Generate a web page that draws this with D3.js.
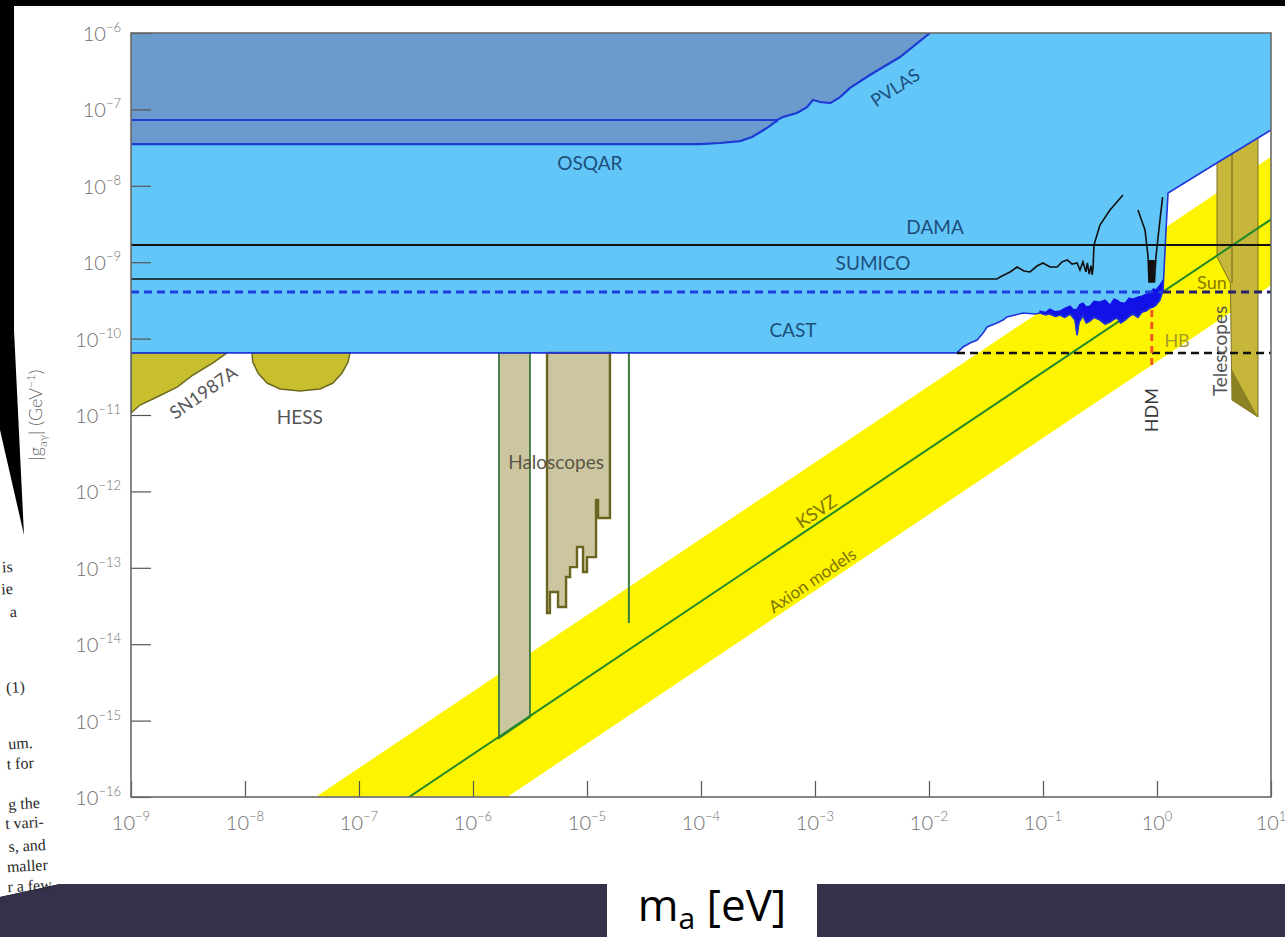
<!DOCTYPE html>
<html>
<head>
<meta charset="utf-8">
<script src="https://cdn.jsdelivr.net/npm/d3@7"></script>
<style>
  html, body { margin: 0; padding: 0; background: #000; overflow: hidden; }
  svg { display: block; }
</style>
</head>
<body>
<svg id="chart" width="1285" height="937"></svg>
<script>
// ---- axis decades ----
const massTickExponents = [-9, -8, -7, -6, -5, -4, -3, -2, -1, 0, 1];
const couplingTickExponents = [-16, -15, -14, -13, -12, -11, -10, -9, -8, -7, -6];

// ---- exclusion bounds: [axion mass (eV), |g_aγ| (GeV^-1)] ----
const pvlasBound = [[1e-9, 7.26e-8], [4.65e-4, 7.26e-8], [5.24e-4, 7.96e-8], [6.95e-4, 8.97e-8],
  [8.51e-4, 1.07e-7], [9.59e-4, 1.33e-7], [1.11e-3, 1.25e-7], [1.36e-3, 1.21e-7], [1.66e-3, 1.45e-7],
  [2.03e-3, 1.91e-7], [3.03e-3, 2.82e-7], [5.57e-3, 4.85e-7], [1.02e-2, 1e-6]];
const osqarBound = [[1e-9, 3.52e-8], [9.79e-5, 3.52e-8], [1.47e-4, 3.63e-8], [2.20e-4, 3.85e-8],
  [2.80e-4, 4.36e-8], [3.43e-4, 5.21e-8], [4.03e-4, 6.07e-8], [4.46e-4, 6.84e-8], [4.73e-4, 7.1e-8]];

const castLowMass = [[1e-9, 6.5e-11], [1.76e-2, 6.5e-11], [1.99e-2, 7.76e-11], [2.29e-2, 8.75e-11],
  [2.64e-2, 9.59e-11], [2.98e-2, 1.18e-10], [3.23e-2, 1.42e-10], [3.57e-2, 1.51e-10], [3.94e-2, 1.60e-10],
  [4.46e-2, 1.75e-10], [4.83e-2, 1.92e-10], [5.68e-2, 2.04e-10], [6.68e-2, 2.16e-10], [8.51e-2, 2.10e-10],
  [9.42e-2, 2.16e-10]];
const castNoiseLower = [[0.105, 2.05e-10], [0.115, 2.10e-10], [0.128, 1.95e-10], [0.141, 2.04e-10],
  [0.155, 1.9e-10], [0.173, 2.10e-10], [0.191, 1.75e-10], [0.199, 1.11e-10], [0.207, 1.65e-10],
  [0.224, 1.98e-10], [0.24, 1.6e-10], [0.258, 1.70e-10], [0.28, 1.9e-10], [0.316, 1.75e-10],
  [0.35, 1.55e-10], [0.387, 1.65e-10], [0.42, 1.8e-10], [0.446, 1.86e-10], [0.48, 1.6e-10],
  [0.524, 1.75e-10], [0.57, 1.95e-10], [0.615, 2.10e-10], [0.68, 1.9e-10], [0.738, 2.23e-10],
  [0.8, 2.3e-10], [0.869, 2.52e-10], [0.93, 2.6e-10], [0.98, 2.75e-10], [1.06, 3.20e-10], [1.13, 4.33e-10]];
const castNoiseUpper = [[9.42e-2, 2.30e-10], [0.105, 2.2e-10], [0.115, 2.44e-10], [0.128, 2.25e-10],
  [0.141, 2.30e-10], [0.155, 2.5e-10], [0.173, 2.67e-10], [0.185, 2.4e-10], [0.199, 2.44e-10],
  [0.21, 2.8e-10], [0.224, 2.92e-10], [0.24, 2.6e-10], [0.258, 2.67e-10], [0.28, 3.1e-10],
  [0.316, 3.01e-10], [0.35, 3.2e-10], [0.387, 2.75e-10], [0.42, 3.3e-10], [0.446, 3.20e-10],
  [0.48, 2.95e-10], [0.524, 2.92e-10], [0.57, 3.4e-10], [0.615, 3.30e-10], [0.68, 3.5e-10],
  [0.738, 3.61e-10], [0.8, 3.8e-10], [0.869, 3.95e-10], [0.93, 4.5e-10], [0.98, 4.33e-10],
  [1.06, 5.03e-10], [1.13, 5.85e-10]];
const castHighMass = [[1.2, 2.64e-9], [1.25, 8.05e-9], [3.57, 2.11e-8], [10, 5.37e-8]];

const damaCoupling = 1.68e-9;
const sumicoBound = [[1e-9, 6.03e-10], [3.94e-2, 6.03e-10], [4.20e-2, 6.40e-10], [5.14e-2, 7.45e-10],
  [5.92e-2, 8.65e-10], [6.81e-2, 7.67e-10], [7.69e-2, 7.45e-10], [8.85e-2, 8.91e-10], [0.1, 9.77e-10],
  [0.115, 8.65e-10], [0.133, 8.65e-10], [0.147, 1.01e-9], [0.163, 1.07e-9], [0.180, 9.46e-10],
  [0.199, 9.77e-10], [0.211, 7.91e-10], [0.224, 1.01e-9], [0.238, 7.45e-10], [0.245, 9.8e-10],
  [0.254, 7.0e-10], [0.264, 9.0e-10], [0.270, 6.8e-10], [0.275, 8.4e-10], [0.280, 1.68e-9],
  [0.316, 3.07e-9], [0.387, 4.82e-9], [0.503, 7.59e-9]];
const sumicoDip = [[0.681, 4.82e-9], [0.785, 2.64e-9], [0.834, 1.2e-9], [0.85, 5.51e-10],
  [0.95, 5.51e-10], [0.98, 1.2e-9], [1.06, 3.5e-9], [1.12, 7.1e-9]];
const sumicoDipCore = [[0.834, 1.07e-9], [0.85, 5.51e-10], [0.95, 5.51e-10], [0.96, 1.07e-9]];

const sunCoupling = 4.07e-10;
const sunSplitMass = 1.13;
const hbCoupling = 6.5e-11;
const hbStartMass = 1.76e-2;
const hdmMass = 0.9;
const hdmCouplings = [2.37e-10, 4.5e-11];

const sn1987aBound = [[1e-9, 6.5e-11], [6.95e-9, 6.5e-11], [5.24e-9, 4.80e-11], [3.50e-9, 3.34e-11],
  [2.54e-9, 2.32e-11], [1.69e-9, 1.72e-11], [1.20e-9, 1.35e-11], [1e-9, 1.06e-11]];
const hessBound = [[1.15e-8, 6.5e-11], [1.17e-8, 4.94e-11], [1.30e-8, 3.55e-11], [1.56e-8, 2.62e-11],
  [2.03e-8, 2.19e-11], [3.03e-8, 2.06e-11], [4.55e-8, 2.19e-11], [5.91e-8, 2.62e-11],
  [7.10e-8, 3.55e-11], [8.02e-8, 4.94e-11], [8.34e-8, 6.5e-11]];

const haloscopeA = [[1.69e-6, 6.5e-11], [3.16e-6, 6.5e-11], [3.16e-6, 1.11e-15], [1.69e-6, 5.92e-16]];
const haloscopeB = [[4.46e-6, 6.5e-11], [1.59e-5, 6.5e-11], [1.59e-5, 4.49e-13], [1.25e-5, 4.49e-13],
  [1.25e-5, 7.71e-13], [1.20e-5, 7.71e-13], [1.20e-5, 1.38e-13], [1e-5, 1.38e-13], [1e-5, 8.81e-14],
  [9.23e-6, 8.81e-14], [9.23e-6, 1.87e-13], [8.17e-6, 1.87e-13], [8.17e-6, 1.02e-13], [7.10e-6, 1.02e-13],
  [7.10e-6, 7.59e-14], [6.55e-6, 7.59e-14], [6.55e-6, 3.07e-14], [5.57e-6, 3.07e-14], [5.57e-6, 4.82e-14],
  [4.73e-6, 4.82e-14], [4.73e-6, 2.56e-14], [4.46e-6, 2.56e-14]];
const haloscopeC = [[2.33e-5, 6.5e-11], [2.33e-5, 1.89e-14]];

const telescopeBound = [[3.36, 1e-7], [7.69, 1e-7], [7.69, 9.42e-12], [4.55, 1.57e-11], [4.4, 5.35e-10], [3.36, 1.17e-9]];
const telescopeShade = [[4.55, 3.88e-11], [7.69, 9.42e-12], [4.55, 1.57e-11]];
const telescopeDivider = [[4.55, 1e-7], [4.55, 5.35e-10]];

const axionBandUpper = [[4.17e-8, 1e-16], [10, 2.40e-8]];
const axionBandLower = [[2.0e-6, 1e-16], [10, 5.0e-10]];
const ksvzLine = [[2.75e-7, 1e-16], [10, 3.63e-9]];

// ---- canvas ----
const W = 1285, H = 937;
const svg = d3.select("#chart");

svg.append("rect").attr("width", W).attr("height", H).attr("fill", "#000");
// sheet of paper holding the figure, with the dark gap between pages at the left
svg.append("path")
  .attr("d", "M14,6 L1285,6 L1285,884 L60,884 L0,897 L0,430 L24,535 L14,330 Z")
  .attr("fill", "#fff");
svg.append("path")
  .attr("d", "M0,897 L60,884 L1285,884 L1285,937 L0,937 Z")
  .attr("fill", "#33324a");
svg.append("rect").attr("x", 607).attr("y", 884).attr("width", 210).attr("height", 53).attr("fill", "#fff");

// snippets of body text on the page underneath
const margin = svg.append("g").attr("font-family", "'Liberation Serif', serif")
  .attr("font-size", 16).attr("fill", "#2a2a2a");
[["is", 13, 572], ["ie", 13, 594], ["a", 17, 617], ["(1)", 25, 692], ["um.", 33, 748], ["t for", 34, 768],
 ["g the", 40, 808], ["t vari-", 44, 827], ["s, and", 46, 850], ["maller", 48, 870], ["r a few", 52, 890]]
  .forEach(([t, xe, yb]) => {
    margin.append("text").attr("x", xe).attr("y", yb).attr("text-anchor", "end")
      .attr("transform", `rotate(-3,${xe},${yb})`).text(t);
  });

// bottom caption
const cap = svg.append("text").attr("x", 712).attr("y", 921).attr("text-anchor", "middle")
  .attr("font-family", "'Open Sans', sans-serif").attr("font-size", 44).attr("fill", "#000");
cap.append("tspan").text("m");
cap.append("tspan").attr("font-size", 30).attr("dy", 8).text("a");
cap.append("tspan").attr("dy", -8).text(" [eV]");

// ---- scales ----
const x = d3.scaleLog().domain([1e-9, 10]).range([131, 1271]);
const y = d3.scaleLog().domain([1e-16, 1e-6]).range([797, 33]);
const line = d3.line().x(d => x(d[0])).y(d => y(d[1]));
const closed = pts => line(pts) + "Z";

svg.append("defs").append("clipPath").attr("id", "plot")
  .append("rect").attr("x", 131).attr("y", 33).attr("width", 1140).attr("height", 764);
const g = svg.append("g").attr("clip-path", "url(#plot)");

// axion model band
g.append("path").attr("d", closed(axionBandUpper.concat(axionBandLower.slice().reverse())))
  .attr("fill", "#fdf500");

// telescope searches
g.append("path").attr("d", closed(telescopeBound)).attr("fill", "#c6b73a")
  .attr("stroke", "#7d7222").attr("stroke-width", 1);
g.append("path").attr("d", closed(telescopeShade)).attr("fill", "#8c8223");
g.append("path").attr("d", line(telescopeDivider)).attr("stroke", "#7d7222").attr("stroke-width", 1.2).attr("fill", "none");

// helioscope / light-shining-through-wall excluded regions
const castBound = castLowMass.concat(castNoiseLower, castHighMass);
g.append("path").attr("d", closed(castBound.concat([[10, 1e-6], [1e-9, 1e-6]]))).attr("fill", "#63c6f8");
const lswRegion = osqarBound.concat(pvlasBound.filter(d => d[0] > 4.73e-4), [[1e-9, 1e-6]]);
g.append("path").attr("d", closed(lswRegion)).attr("fill", "#6a9bcc");

// astrophysical bounds
g.append("path").attr("d", closed(sn1987aBound)).attr("fill", "#c8bf2e").attr("stroke", "#6c6a1e").attr("stroke-width", 1.5);
g.append("path").attr("d", closed(hessBound)).attr("fill", "#c8bf2e").attr("stroke", "#6c6a1e").attr("stroke-width", 1.5);

// haloscopes
g.append("path").attr("d", closed(haloscopeA)).attr("fill", "#cbc69f").attr("stroke", "#3b7a3b").attr("stroke-width", 1.8);
g.append("path").attr("d", closed(haloscopeB)).attr("fill", "#cbc69f").attr("stroke", "#6b6320").attr("stroke-width", 2.4);
g.append("path").attr("d", line(haloscopeC)).attr("stroke", "#3b7a3b").attr("stroke-width", 2).attr("fill", "none");

// KSVZ model line
g.append("path").attr("d", line(ksvzLine)).attr("stroke", "#23892a").attr("stroke-width", 2).attr("fill", "none");

// CAST noisy high-mass bound
g.append("path").attr("d", closed(castNoiseUpper.concat(castNoiseLower.slice().reverse(), [[9.42e-2, 2.16e-10]])))
  .attr("fill", "#1212e6").attr("stroke", "#1212e6").attr("stroke-width", 1.2);
g.append("path").attr("d", line(castBound)).attr("stroke", "#1f36d8").attr("stroke-width", 1.6).attr("fill", "none");
g.append("path").attr("d", line(osqarBound)).attr("stroke", "#1c3bd4").attr("stroke-width", 2.2).attr("fill", "none");
g.append("path").attr("d", line(pvlasBound)).attr("stroke", "#1c3bd4").attr("stroke-width", 2.2).attr("fill", "none");

// DAMA and SUMICO
g.append("path").attr("d", line([[1e-9, damaCoupling], [10, damaCoupling]])).attr("stroke", "#111").attr("stroke-width", 2).attr("fill", "none");
g.append("path").attr("d", line(sumicoBound)).attr("stroke", "#111").attr("stroke-width", 1.6).attr("fill", "none");
g.append("path").attr("d", line(sumicoDip)).attr("stroke", "#111").attr("stroke-width", 1.6).attr("fill", "none");
g.append("path").attr("d", closed(sumicoDipCore)).attr("fill", "#111");

// solar, HB and HDM limits
g.append("path").attr("d", line([[1e-9, sunCoupling], [sunSplitMass, sunCoupling]]))
  .attr("stroke", "#1d3ee0").attr("stroke-width", 3).attr("stroke-dasharray", "8,5").attr("fill", "none");
g.append("path").attr("d", line([[sunSplitMass, sunCoupling], [10, sunCoupling]]))
  .attr("stroke", "#261f6e").attr("stroke-width", 3).attr("stroke-dasharray", "8,5").attr("fill", "none");
g.append("path").attr("d", line([[hbStartMass, hbCoupling], [10, hbCoupling]]))
  .attr("stroke", "#111").attr("stroke-width", 2.5).attr("stroke-dasharray", "8,5").attr("fill", "none");
g.append("path").attr("d", line([[hdmMass, hdmCouplings[0]], [hdmMass, hdmCouplings[1]]]))
  .attr("stroke", "#ee5a24").attr("stroke-width", 3).attr("stroke-dasharray", "7,5").attr("fill", "none");

// ---- region labels ----
const labels = [
  { t: "OSQAR", m: 1.06e-5, c: 1.99e-8, a: 0, col: "#1d4f7c", s: 19 },
  { t: "PVLAS", m: 5.03e-3, c: 1.96e-7, a: -33, col: "#1d4f7c", s: 18 },
  { t: "DAMA", m: 1.13e-2, c: 2.89e-9, a: 0, col: "#1d4f7c", s: 19 },
  { t: "SUMICO", m: 3.23e-3, c: 9.77e-10, a: 0, col: "#1d4f7c", s: 19 },
  { t: "CAST", m: 6.41e-4, c: 1.30e-10, a: 0, col: "#1d4f7c", s: 19 },
  { t: "Sun", m: 3.03, c: 5.51e-10, a: 0, col: "#8a7a00", s: 18 },
  { t: "HB", m: 1.50, c: 9.59e-11, a: 0, col: "#a39a2a", s: 18 },
  { t: "HDM", m: 0.885, c: 1.16e-11, a: -90, col: "#3a3a3a", s: 18 },
  { t: "Telescopes", m: 3.50, c: 6.89e-11, a: -90, col: "#555", s: 19 },
  { t: "Haloscopes", m: 5.35e-6, c: 2.43e-12, a: 0, col: "#5a5648", s: 19 },
  { t: "KSVZ", m: 1.02e-3, c: 5.53e-13, a: -34, col: "#7f7400", s: 18 },
  { t: "Axion models", m: 9.42e-4, c: 6.92e-14, a: -34, col: "#7f7400", s: 17 },
  { t: "SN1987A", m: 4.28e-9, c: 2.0e-11, a: -35, col: "#555", s: 18 },
  { t: "HESS", m: 3.03e-8, c: 9.70e-12, a: 0, col: "#555", s: 19 }
];
const lab = svg.append("g").attr("font-family", "Lato, sans-serif");
labels.forEach(d => {
  const px = x(d.m), py = y(d.c);
  lab.append("text").attr("x", px).attr("y", py).attr("text-anchor", "middle")
    .attr("dominant-baseline", "central").attr("font-size", d.s).attr("fill", d.col)
    .attr("transform", `rotate(${d.a},${px},${py})`).text(d.t);
});

// ---- axes ----
const xMajor = massTickExponents.map(e => Math.pow(10, e));
const yMajor = couplingTickExponents.map(e => Math.pow(10, e));
const xMinor = x.ticks().filter(v => !xMajor.some(m => Math.abs(m - v) / m < 1e-6));
const yMinor = y.ticks().filter(v => !yMajor.some(m => Math.abs(m - v) / m < 1e-6));

function styleAxis(sel) {
  sel.select(".domain").remove();
  sel.selectAll(".tick line").attr("stroke", "#555").attr("stroke-width", 1.2);
}
svg.append("g").attr("transform", "translate(0,797)")
  .call(d3.axisBottom(x).tickValues(xMajor).tickSize(-16).tickFormat("")).call(styleAxis);
svg.append("g").attr("transform", "translate(0,797)")
  .call(d3.axisBottom(x).tickValues(xMinor).tickSize(-7).tickFormat("")).call(styleAxis);
svg.append("g").attr("transform", "translate(131,0)")
  .call(d3.axisLeft(y).tickValues(yMajor).tickSize(-20).tickFormat("")).call(styleAxis);
svg.append("g").attr("transform", "translate(131,0)")
  .call(d3.axisLeft(y).tickValues(yMinor).tickSize(-10).tickFormat("")).call(styleAxis);

svg.append("rect").attr("x", 131).attr("y", 33).attr("width", 1140).attr("height", 764)
  .attr("fill", "none").attr("stroke", "#6a6a6a").attr("stroke-width", 1.6);

const tickFont = { family: "Lato, sans-serif", base: 20, sup: 13, col: "#6f6f6f" };
massTickExponents.forEach(e => {
  const t = svg.append("text").attr("x", x(Math.pow(10, e))).attr("y", 830).attr("text-anchor", "middle")
    .attr("font-family", tickFont.family).attr("font-weight", 300).attr("font-size", tickFont.base).attr("fill", tickFont.col);
  t.append("tspan").text("10");
  t.append("tspan").attr("font-size", tickFont.sup).attr("dy", -9).text(e < 0 ? "\u2212" + (-e) : String(e));
});
couplingTickExponents.forEach(e => {
  const t = svg.append("text").attr("x", 121).attr("y", y(Math.pow(10, e)) + 8).attr("text-anchor", "end")
    .attr("font-family", tickFont.family).attr("font-weight", 300).attr("font-size", tickFont.base).attr("fill", tickFont.col);
  t.append("tspan").text("10");
  t.append("tspan").attr("font-size", tickFont.sup).attr("dy", -9).text("\u2212" + (-e));
});

// coupling axis title
const yt = svg.append("text").attr("transform", "translate(42,415) rotate(-90)").attr("text-anchor", "middle")
  .attr("font-family", tickFont.family).attr("font-weight", 300).attr("font-size", 18).attr("fill", "#666");
yt.append("tspan").text("|g");
yt.append("tspan").attr("font-size", 12).attr("dy", 5).text("a\u03b3");
yt.append("tspan").attr("dy", -5).text("| (GeV");
yt.append("tspan").attr("font-size", 12).attr("dy", -7).text("\u22121");
yt.append("tspan").attr("dy", 7).text(")");
</script>
</body>
</html>
